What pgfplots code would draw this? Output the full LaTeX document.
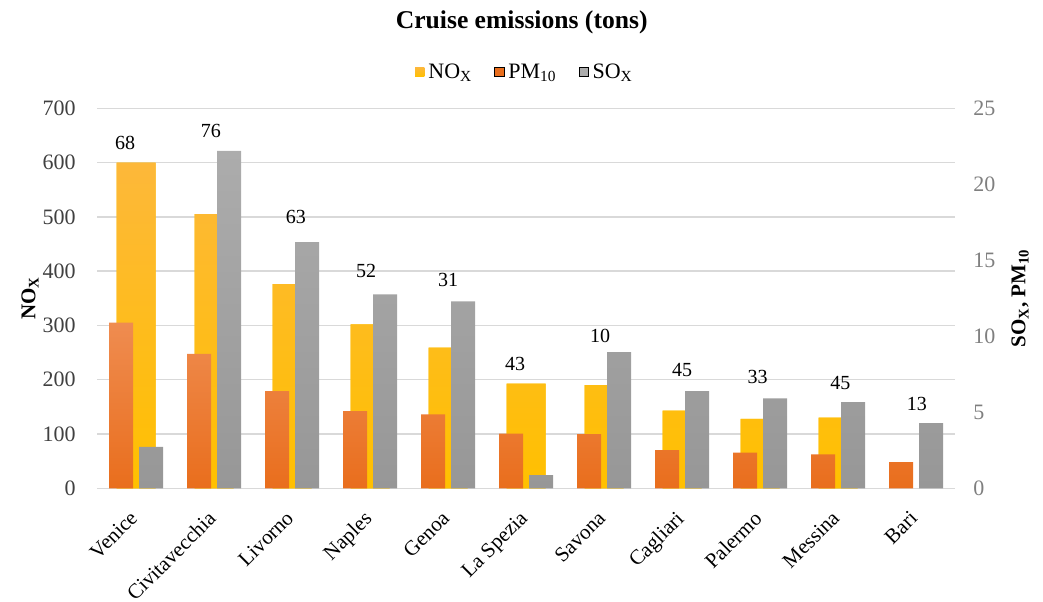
\documentclass[border=0pt]{standalone}
\usepackage{pgfplots}
\pgfplotsset{compat=1.18}
\usepackage{pgfplotstable}
\usepackage{fontspec}
\setmainfont{Liberation Serif}
\definecolor{noxT}{HTML}{FDB83A}
\definecolor{noxM}{HTML}{FFC000}
\definecolor{noxB}{HTML}{FFC000}
\definecolor{pmT}{HTML}{EF8C50}
\definecolor{pmB}{HTML}{E96E1D}
\definecolor{soT}{HTML}{ACACAC}
\definecolor{soB}{HTML}{979797}
\definecolor{gridc}{HTML}{D9D9D9}
\definecolor{lefttick}{HTML}{404040}
\definecolor{righttick}{HTML}{7F7F7F}

\pgfplotstableread{
x nox
0 600
1 505
2 376
3 302
4 259
5 193
6 190
7 143
8 128
9 130
}\noxdata

\pgfplotstableread{
x pm so
0 10.9 2.73
1 8.85 22.2
2 6.4 16.2
3 5.08 12.76
4 4.86 12.3
5 3.6 0.875
6 3.57 8.96
7 2.52 6.39
8 2.34 5.91
9 2.23 5.67
10 1.73 4.29
}\rightdata

\pgfplotstableread{
x y lab
-0.14 636 68
0.96 659 76
2.05 499 63
2.95 401 52
4.0 383 31
4.86 229 43
5.95 280 10
7.0 218 45
7.97 205 33
9.03 194 45
10.01 155 13
}\labdata

\begin{document}
\begin{tikzpicture}
\begin{axis}[
  name=main,
  scale only axis,
  width=429pt, height=190pt,
  xmin=-0.5, xmax=10.5,
  ymin=0, ymax=700,
  ytick={0,100,...,700},
  xtick={0,...,10},
  xticklabels={Venice,Civitavecchia,Livorno,Naples,Genoa,La Spezia,Savona,Cagliari,Palermo,Messina,Bari},
  axis lines*=left,
  y axis line style={draw=none},
  x axis line style={draw=gridc, line width=0.8pt},
  major tick length=0pt,
  ymajorgrids,
  grid style={draw=gridc, line width=0.75pt},
  /pgf/number format/assume math mode=true,
  yticklabel style={text=lefttick, inner sep=0pt, xshift=-10.5pt, font=\fontsize{11}{13}\selectfont},
  xticklabel style={text=black, rotate=45, anchor=north east, inner sep=0pt, yshift=-4.8pt, xshift=-10pt, font=\fontsize{10.5}{12}\selectfont},
  every axis y label/.style={at={(axis description cs:-0.078,0.5)}, rotate=90, anchor=center, font=\bfseries\fontsize{10.5}{12}\selectfont},
  ylabel={NO\textsubscript{X}},
  title={Cruise emissions (tons)},
  every axis title/.style={at={(axis description cs:0.495,1)}, anchor=center, yshift=43pt, font=\bfseries\fontsize{12.8}{15}\selectfont},
  legend style={at={(axis description cs:0.5,1)}, anchor=center, yshift=18pt, draw=none, fill=none,
    legend columns=3, font=\fontsize{11}{13}\selectfont,
    /tikz/every even column/.append style={column sep=9pt}},
  legend image code/.code={\fill[#1] (0pt,-2.2pt) rectangle (4.6pt,2.4pt);},
]
\addplot[ybar, bar width=19.5pt, bar shift=0pt, draw=none, top color=noxT, middle color=noxM, bottom color=noxB, fill=noxM] table[x=x, y=nox] {\noxdata};
\addlegendentry{NO\textsubscript{X}}
\addlegendimage{fill=pmB}
\addlegendentry{PM\textsubscript{10}}
\addlegendimage{fill=soT}
\addlegendentry{SO\textsubscript{X}}
\end{axis}

\begin{axis}[
  scale only axis,
  width=429pt, height=190pt,
  xmin=-0.5, xmax=10.5,
  ymin=0, ymax=25,
  ytick={0,5,...,25},
  axis y line*=right,
  axis x line=none,
  y axis line style={draw=none},
  major tick length=0pt,
  /pgf/number format/assume math mode=true,
  yticklabel style={text=righttick, inner sep=0pt, xshift=9pt, font=\fontsize{11}{13}\selectfont},
  every axis y label/.style={at={(axis description cs:1.0758,0.5)}, rotate=90, anchor=center, font=\bfseries\fontsize{10.5}{12}\selectfont},
  ylabel={SO\textsubscript{X}, PM\textsubscript{10}},
]
\addplot[ybar, bar width=12pt, bar shift=-7.5pt, draw=none, top color=pmT, bottom color=pmB] table[x=x, y=pm] {\rightdata};
\addplot[ybar, bar width=12pt, bar shift=7.5pt, draw=none, top color=soT, bottom color=soB] table[x=x, y=so] {\rightdata};
\end{axis}

\begin{axis}[
  scale only axis,
  width=429pt, height=190pt,
  xmin=-0.5, xmax=10.5,
  ymin=0, ymax=700,
  hide axis,
]
\addplot[only marks, mark=none, nodes near coords, point meta=explicit symbolic,
  nodes near coords style={anchor=center, font=\fontsize{10}{12}\selectfont, text=black}]
  table[x=x, y=y, meta=lab] {\labdata};
\end{axis}

\pgfresetboundingbox
\path (main.south west) ++(-48.5pt,-56.35pt) rectangle ++(521.5pt,300.5pt);
\end{tikzpicture}
\end{document}
